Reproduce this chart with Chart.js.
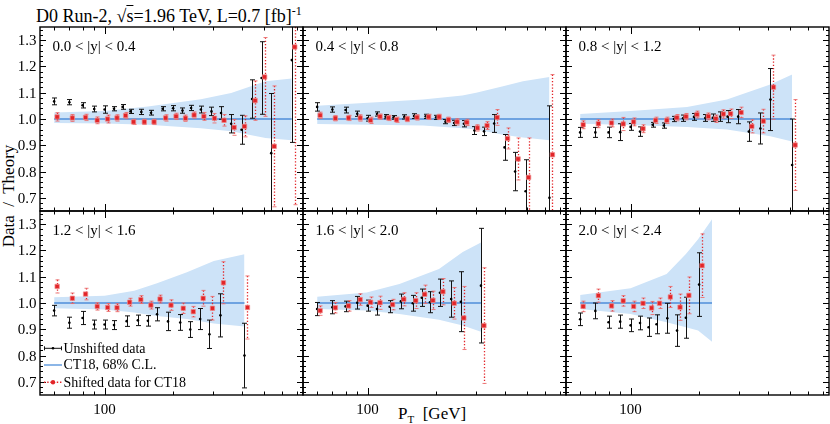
<!DOCTYPE html>
<html><head><meta charset="utf-8">
<script src="https://cdn.jsdelivr.net/npm/chart.js@4.4.1/dist/chart.umd.min.js"></script>
<style>
html,body{margin:0;padding:0;background:#fff;}
body{position:relative;width:830px;height:424px;overflow:hidden;}
canvas{position:absolute;}
.t{position:absolute;white-space:pre;line-height:1;color:#000;font-family:"Liberation Serif","Times New Roman",serif;}
</style></head><body>
<div class="t" style="left:36px;top:7px;font-size:18px;">D0 Run-2, √<span style="text-decoration:overline">s</span>=1.96 TeV, L=0.7 [fb]<span style="font-size:12px;position:relative;top:-7px;">-1</span></div>
<div class="t" style="left:7.5px;top:196px;font-size:17px;transform:translate(-50%,-50%) rotate(-90deg);">Data  /  Theory</div>
<div class="t" style="left:398px;top:405px;font-size:17px;">P<span style="font-size:11px;position:relative;top:4px;">T</span>  [GeV]</div>
<script>
// ---------- data ----------
const panelLabels = ['0.0 < |y| < 0.4','0.4 < |y| < 0.8','0.8 < |y| < 1.2','1.2 < |y| < 1.6','1.6 < |y| < 2.0','2.0 < |y| < 2.4'];
const legendLabels = ['Unshifted data','CT18, 68% C.L.','Shifted data for CT18'];
const yTicks = [0.7,0.8,0.9,1.0,1.1,1.2,1.3];
const xTickLabels = [100];
const xMinorTicks = [60,70,80,90,200,300,400,500,600,700];
const theoryRatio = 1.0;

const pt1 = [60,70,80,90,100,110,120,130,145,160,180,200,220,240,265,295,325,360,400,445,490,540,665];
const d1  = [1.067,1.064,1.052,1.038,1.036,1.039,1.046,1.029,1.027,1.024,1.039,1.041,1.032,1.042,1.036,1.029,1.023,0.982,0.959,1.076,1.156,0.870,1.224];
const e1  = [0.013,0.010,0.010,0.011,0.014,0.008,0.009,0.008,0.010,0.009,0.008,0.010,0.010,0.010,0.013,0.016,0.024,0.035,0.055,0.073,0.138,0.227,0.313];
const s1  = [1.008,1.004,1.006,0.995,1.000,1.004,1.013,0.989,0.989,0.989,1.004,1.010,1.003,1.015,1.010,1.003,0.995,0.968,0.972,1.070,1.160,0.896,1.274];
const se1 = [0.016,0.013,0.012,0.013,0.015,0.012,0.012,0.010,0.010,0.010,0.012,0.012,0.012,0.012,0.015,0.018,0.022,0.030,0.040,0.075,0.150,0.230,0.600];
const bandPt1 = [60,100,155,265,360,510,665];
const bandHi1 = [1.025,1.030,1.048,1.075,1.099,1.144,1.154];
const bandLo1 = [0.985,0.983,0.978,0.965,0.953,0.928,0.919];

const pt2 = [60,70,80,90,100,110,120,130,145,160,180,200,220,240,265,295,325,360,400,445,495,630];
const d2  = [1.046,1.036,1.034,1.020,1.003,1.019,1.009,1.006,1.008,1.011,1.010,1.006,0.990,0.985,0.982,0.956,0.953,0.983,0.892,0.800,0.725,0.700];
const e2  = [0.016,0.010,0.011,0.010,0.011,0.008,0.008,0.007,0.008,0.009,0.008,0.008,0.008,0.010,0.012,0.015,0.016,0.034,0.049,0.073,0.120,0.350];
const s2  = [1.014,1.003,1.004,1.004,0.995,1.009,1.004,0.997,1.000,1.006,1.008,1.008,0.997,0.989,0.987,0.966,0.975,1.006,0.926,0.848,0.778,0.864];
const se2 = [0.012,0.010,0.010,0.012,0.012,0.010,0.010,0.010,0.010,0.010,0.010,0.010,0.010,0.012,0.012,0.012,0.015,0.030,0.040,0.080,0.150,0.305];
const bandPt2 = [60,175,261,300,394,482,630];
const bandHi2 = [1.050,1.074,1.089,1.100,1.125,1.144,1.160];
const bandLo2 = [0.981,0.975,0.965,0.960,0.940,0.930,0.919];

const pt3 = [60,70,80,90,100,110,125,140,155,170,190,213,230,248,267,297,331,372,412,513];
const d3  = [0.949,0.949,0.949,0.950,0.970,0.952,0.978,0.975,1.000,1.003,1.008,1.004,1.005,1.009,1.009,1.009,0.952,0.964,1.074,0.825];
const e3  = [0.019,0.019,0.020,0.032,0.013,0.018,0.009,0.010,0.010,0.012,0.013,0.013,0.014,0.018,0.023,0.027,0.037,0.059,0.118,0.175];
const s3  = [0.978,0.982,0.985,0.981,0.989,0.963,0.995,0.995,1.005,1.009,1.017,1.010,1.001,1.019,1.020,1.025,0.972,0.992,1.121,0.901];
const se3 = [0.015,0.015,0.015,0.025,0.015,0.015,0.012,0.012,0.012,0.012,0.013,0.013,0.014,0.016,0.018,0.020,0.025,0.045,0.122,0.173];
const bandPt3 = [60,100,177,265,411,513];
const bandHi3 = [1.019,1.030,1.046,1.074,1.131,1.169];
const bandLo3 = [0.982,0.977,0.970,0.960,0.934,0.914];

const pt4 = [60,70,80,90,100,110,125,140,155,170,190,215,238,263,289,323,412];
const d4  = [0.971,0.925,0.943,0.918,0.918,0.916,0.931,0.934,0.932,0.957,0.930,0.926,0.899,0.939,0.881,0.953,0.800];
const e4  = [0.020,0.021,0.025,0.017,0.017,0.017,0.020,0.020,0.020,0.025,0.035,0.030,0.030,0.040,0.054,0.082,0.123];
const s4  = [1.063,1.018,1.034,0.987,0.983,0.982,1.003,1.013,0.992,1.015,0.992,0.980,0.967,1.018,0.980,1.077,0.983];
const se4 = [0.025,0.020,0.022,0.014,0.015,0.015,0.015,0.015,0.015,0.015,0.020,0.020,0.020,0.030,0.045,0.080,0.120];
const bandPt4 = [60,100,135,170,230,302,412];
const bandHi4 = [1.022,1.028,1.047,1.075,1.117,1.160,1.185];
const bandLo4 = [0.980,0.975,0.964,0.951,0.939,0.922,0.911];

const pt5 = [60,70,80,90,100,110,125,140,158,173,188,208,233,257,315];
const d5  = [0.977,0.984,0.987,1.001,0.990,0.977,0.986,1.006,0.999,1.020,1.003,1.039,1.015,1.005,1.066];
const e5  = [0.025,0.025,0.020,0.024,0.021,0.023,0.023,0.028,0.030,0.033,0.040,0.052,0.069,0.114,0.218];
const s5  = [0.971,0.982,0.989,1.013,1.003,1.001,0.994,1.014,1.009,1.033,1.010,1.043,0.999,0.943,0.914];
const se5 = [0.018,0.020,0.020,0.022,0.020,0.025,0.020,0.025,0.030,0.035,0.035,0.050,0.060,0.120,0.220];
const bandPt5 = [60,99,138,206,262,315];
const bandHi5 = [1.024,1.040,1.072,1.129,1.194,1.230];
const bandLo5 = [0.977,0.971,0.958,0.936,0.914,0.891];

const pt6 = [60,70,80,90,100,110,120,130,145,160,175,200];
const d6  = [0.938,0.970,0.927,0.929,0.915,0.924,0.908,0.919,0.942,0.895,0.944,1.070];
const e6  = [0.024,0.030,0.023,0.025,0.024,0.026,0.035,0.036,0.057,0.060,0.078,0.121];
const s6  = [0.987,1.028,0.989,1.008,0.987,0.999,0.981,0.999,1.023,0.984,1.029,1.142];
const se6 = [0.020,0.025,0.020,0.020,0.020,0.020,0.025,0.020,0.040,0.050,0.070,0.121];
const bandPt6 = [60,100,144,175,198,228];
const bandHi6 = [1.030,1.056,1.110,1.186,1.243,1.319];
const bandLo6 = [0.977,0.958,0.927,0.908,0.895,0.853];

// ---------- style ----------
const BAND = 'rgb(205,227,248)';
const LINE = 'rgb(78,142,218)';
const RED = 'rgb(226,36,40)';
const SHIFT_PX = 3;
const FR = {left:[40,303,566], top:[27,211], w:263, h:184};
const FONT = '"Liberation Serif","Times New Roman",serif';

Chart.defaults.font.family = FONT;
Chart.defaults.font.size = 15;
Chart.defaults.color = '#000';

const panels = [
  {pt:pt1,d:d1,e:e1,s:s1,se:se1,bx:bandPt1,bh:bandHi1,bl:bandLo1},
  {pt:pt2,d:d2,e:e2,s:s2,se:se2,bx:bandPt2,bh:bandHi2,bl:bandLo2},
  {pt:pt3,d:d3,e:e3,s:s3,se:se3,bx:bandPt3,bh:bandHi3,bl:bandLo3},
  {pt:pt4,d:d4,e:e4,s:s4,se:se4,bx:bandPt4,bh:bandHi4,bl:bandLo4},
  {pt:pt5,d:d5,e:e5,s:s5,se:se5,bx:bandPt5,bh:bandHi5,bl:bandLo5},
  {pt:pt6,d:d6,e:e6,s:s6,se:se6,bx:bandPt6,bh:bandHi6,bl:bandLo6}
];

function pts(xs, ys){ return xs.map((x,i)=>({x:x, y:ys[i]})); }

const errorBars = {
  id:'errorBars',
  afterDatasetsUpdate(chart){
    chart.getDatasetMeta(4).data.forEach(el => { el.x += SHIFT_PX; });
  },
  afterDatasetDraw(chart, args){
    if (args.index !== 2) return;
    const ctx = chart.ctx, a = chart.chartArea, xs = chart.scales.x, ys = chart.scales.y;
    ctx.save();
    ctx.beginPath(); ctx.rect(a.left, a.top, a.width, a.height); ctx.clip();
    ctx.strokeStyle = '#111'; ctx.lineWidth = 1;
    chart.data.datasets[3].data.forEach(p => {
      const px = Math.round(xs.getPixelForValue(p.x)) + 0.5;
      const y1 = ys.getPixelForValue(p.y + p.err), y2 = ys.getPixelForValue(p.y - p.err);
      ctx.beginPath();
      ctx.moveTo(px, y1); ctx.lineTo(px, y2);
      ctx.moveTo(px-2.5, y1); ctx.lineTo(px+2.5, y1);
      ctx.moveTo(px-2.5, y2); ctx.lineTo(px+2.5, y2);
      ctx.stroke();
    });
    chart.data.datasets[4].data.forEach(p => {
      const px = Math.round(xs.getPixelForValue(p.x)) + SHIFT_PX + 0.5;
      const y1 = ys.getPixelForValue(p.y + p.err), y2 = ys.getPixelForValue(p.y - p.err);
      ctx.strokeStyle = RED; ctx.lineWidth = 1.3; ctx.setLineDash([1.3,1.9]);
      ctx.beginPath(); ctx.moveTo(px, y1); ctx.lineTo(px, y2); ctx.stroke();
      ctx.setLineDash([]); ctx.lineWidth = 1; ctx.strokeStyle = 'rgba(235,110,110,0.9)';
      ctx.beginPath();
      ctx.moveTo(px-2, y1); ctx.lineTo(px+2, y1);
      ctx.moveTo(px-2, y2); ctx.lineTo(px+2, y2);
      ctx.stroke();
    });
    ctx.restore();
  }
};

const frame = {
  id:'frame',
  afterDraw(chart, args, opts){
    const ctx = chart.ctx, a = chart.chartArea, xs = chart.scales.x, ys = chart.scales.y;
    ctx.save();
    ctx.strokeStyle = '#000'; ctx.lineWidth = 1;
    ctx.beginPath();
    xMinorTicks.forEach(v => {
      const px = Math.round(xs.getPixelForValue(v)) + 0.5;
      ctx.moveTo(px, a.bottom); ctx.lineTo(px, a.bottom - 3.5);
      ctx.moveTo(px, a.top); ctx.lineTo(px, a.top + 3.5);
    });
    xTickLabels.forEach(v => {
      const px = Math.round(xs.getPixelForValue(v)) + 0.5;
      ctx.moveTo(px, a.bottom); ctx.lineTo(px, a.bottom - 7);
      ctx.moveTo(px, a.top); ctx.lineTo(px, a.top + 7);
    });
    for (let k = 33; k <= 67; k++) {
      const v = k * 0.02, py = Math.round(ys.getPixelForValue(v)) + 0.5;
      const len = (k % 5 === 0) ? 6 : 3;
      ctx.moveTo(a.left, py); ctx.lineTo(a.left + len, py);
      ctx.moveTo(a.right, py); ctx.lineTo(a.right - len, py);
    }
    ctx.stroke();
    ctx.lineWidth = 1.4;
    ctx.strokeRect(a.left, a.top, a.width, a.height);
    ctx.fillStyle = '#000';
    ctx.font = '15px ' + FONT;
    ctx.textBaseline = 'alphabetic';
    if (opts.yLabels) {
      ctx.textAlign = 'right';
      yTicks.forEach(v => ctx.fillText(v.toFixed(1), a.left - 3.5, ys.getPixelForValue(v) + 5));
    }
    if (opts.xLabels) {
      ctx.textAlign = 'center';
      xTickLabels.forEach(v => ctx.fillText(String(v), xs.getPixelForValue(v), a.bottom + 18.5));
    }
    ctx.textAlign = 'left';
    ctx.fillText(opts.label, a.left + 12.5, a.top + 24);
    if (opts.legend) {
      const lx = a.left + 4, rx = a.left + 22, mx = (lx + rx) / 2, tx = a.left + 23.5;
      const r = [a.top + 137.3, a.top + 154, a.top + 171.3];
      ctx.font = '14px ' + FONT;
      ctx.strokeStyle = '#111'; ctx.lineWidth = 1;
      ctx.beginPath();
      ctx.moveTo(lx, r[0]); ctx.lineTo(rx, r[0]);
      ctx.moveTo(lx + 0.5, r[0] - 2); ctx.lineTo(lx + 0.5, r[0] + 2);
      ctx.moveTo(rx - 0.5, r[0] - 2); ctx.lineTo(rx - 0.5, r[0] + 2);
      ctx.stroke();
      ctx.fillStyle = '#000';
      ctx.beginPath(); ctx.arc(mx, r[0], 1.3, 0, Math.PI * 2); ctx.fill();
      ctx.fillText(legendLabels[0], tx, r[0] + 4.4);
      ctx.strokeStyle = LINE; ctx.lineWidth = 1.3;
      ctx.beginPath(); ctx.moveTo(lx, r[1]); ctx.lineTo(rx, r[1]); ctx.stroke();
      ctx.fillText(legendLabels[1], tx, r[1] + 4.4);
      ctx.strokeStyle = RED; ctx.lineWidth = 1.4; ctx.setLineDash([1.4, 1.8]);
      ctx.beginPath(); ctx.moveTo(lx, r[2]); ctx.lineTo(rx, r[2]); ctx.stroke();
      ctx.setLineDash([]);
      ctx.fillStyle = RED;
      ctx.beginPath(); ctx.arc(mx, r[2], 2.2, 0, Math.PI * 2); ctx.fill();
      ctx.fillStyle = '#000';
      ctx.fillText(legendLabels[2], tx, r[2] + 4.4);
    }
    ctx.restore();
  }
};

panels.forEach((P, i) => {
  const col = i % 3, row = Math.floor(i / 3);
  const padL = col === 0 ? 42 : 3, padR = 3, padT = 3, padB = row === 1 ? 30 : 3;
  const cv = document.createElement('canvas');
  cv.width = FR.w + padL + padR; cv.height = FR.h + padT + padB;
  cv.style.left = (FR.left[col] - padL) + 'px';
  cv.style.top = (FR.top[row] - padT) + 'px';
  cv.style.width = cv.width + 'px'; cv.style.height = cv.height + 'px';
  document.body.appendChild(cv);
  new Chart(cv, {
    type:'scatter',
    data:{datasets:[
      {label:'band hi', data:pts(P.bx, P.bh), showLine:true, pointRadius:0, borderWidth:0, borderColor:'rgba(0,0,0,0)', backgroundColor:BAND, fill:false, order:5, tension:0},
      {label:'band lo', data:pts(P.bx, P.bl), showLine:true, pointRadius:0, borderWidth:0, borderColor:'rgba(0,0,0,0)', backgroundColor:BAND, fill:'-1', order:4, tension:0},
      {label:legendLabels[1], data:[{x:P.bx[0], y:theoryRatio},{x:P.bx[P.bx.length-1], y:theoryRatio}], showLine:true, pointRadius:0, borderColor:LINE, borderWidth:1.3, fill:false, order:3},
      {label:legendLabels[0], data:P.pt.map((x,k)=>({x:x, y:P.d[k], err:P.e[k]})), pointRadius:1.3, pointBackgroundColor:'#000', pointBorderWidth:0, order:2},
      {label:legendLabels[2], data:P.pt.map((x,k)=>({x:x, y:P.s[k], err:P.se[k]})), pointStyle:'rect', pointRadius:3.1, pointBackgroundColor:RED, pointBorderColor:'rgba(240,140,140,0.9)', pointBorderWidth:0.8, order:1}
    ]},
    options:{
      responsive:false, animation:false, devicePixelRatio:1,
      events:[],
      layout:{autoPadding:false, padding:{left:padL, right:padR, top:padT, bottom:padB}},
      plugins:{legend:{display:false}, tooltip:{enabled:false},
               frame:{label:panelLabels[i], legend: i === 3, yLabels: col === 0, xLabels: row === 1}},
      scales:{
        x:{type:'logarithmic', min:52, max:745, display:false},
        y:{type:'linear', min:0.65, max:1.35, display:false}
      }
    },
    plugins:[errorBars, frame]
  });
});
</script>
</body></html>
